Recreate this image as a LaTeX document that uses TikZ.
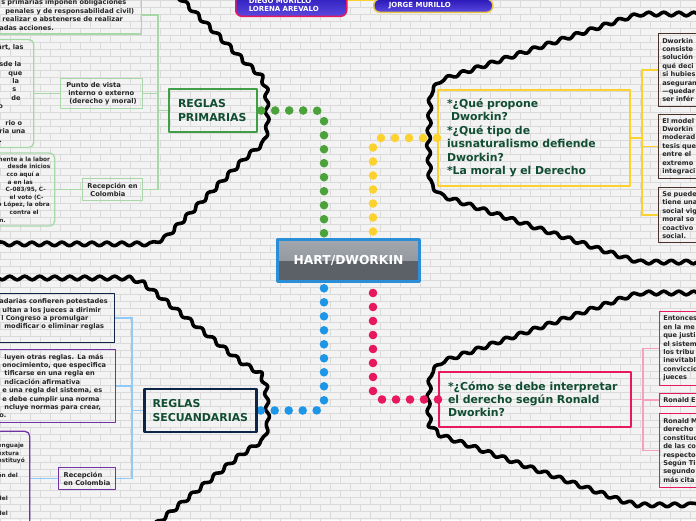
\documentclass[tikz,border=0pt]{standalone}
\usepackage{fontspec}
\setmainfont{DejaVu Sans}
\usetikzlibrary{decorations.pathmorphing}
\pgfdeclarelayer{back}
\pgfsetlayers{back,main}
\definecolor{wall}{HTML}{F3F3F3}
\definecolor{mortar}{HTML}{DADADA}
\definecolor{inkgreen}{HTML}{114D32}
\definecolor{dotgreen}{HTML}{4CA23A}
\definecolor{dotyellow}{HTML}{FDD22E}
\definecolor{dotblue}{HTML}{1E96E8}
\definecolor{dotpink}{HTML}{E8185E}
\definecolor{boxgreen}{HTML}{3F9E46}
\definecolor{leafgreen}{HTML}{A8D8A8}
\definecolor{navy}{HTML}{0D2647}
\definecolor{violet}{HTML}{7232A3}
\definecolor{leafbrown}{HTML}{4A3128}
\definecolor{twigblue}{HTML}{90CAF9}
\definecolor{twigpink}{HTML}{F6A0BE}
\definecolor{hubblue}{HTML}{2B8FD8}
\definecolor{hubtop}{HTML}{A2A7AE}
\definecolor{hubmid}{HTML}{878C93}
\definecolor{hubdark}{HTML}{5C6067}
\definecolor{authtop}{HTML}{2A18B8}
\definecolor{authbot}{HTML}{5A48E0}
\definecolor{goldline}{HTML}{E8C547}
\tikzset{
  wave/.style={draw=black, line width=3.6pt, line join=round, decorate, decoration={snake, amplitude=1.8pt, segment length=15pt}},
  dots/.style={line width=8.6pt, line cap=round, dash pattern=on 0pt off 14pt, rounded corners=8pt},
  twig/.style={line width=1.2pt},
  topic/.style={draw, line width=2.4pt, align=left, text=inkgreen, inner xsep=9pt, font=\fontsize{10.9}{13.5}\selectfont\bfseries},
  leaf/.style={draw, line width=1.3pt, align=left, text=black!85, inner xsep=3pt, inner ysep=0pt, font=\fontsize{6.6}{8.4}\selectfont\bfseries},
  tinyleaf/.style={leaf, font=\fontsize{5.8}{7.6}\selectfont\bfseries},
  tag/.style={draw, line width=1.3pt, align=left, text=black!85, inner sep=0pt, font=\fontsize{6.7}{8.2}\selectfont\bfseries},
  author/.style={line width=1.5pt, rounded corners=6pt, align=left, text=white, top color=authtop, bottom color=authbot, font=\fontsize{7}{7.8}\selectfont\bfseries}
}
\begin{document}
\begin{tikzpicture}[line cap=round,line join=round,x=1pt,y=-1pt]
\useasboundingbox (0,0) rectangle (696,520);
\clip (0,0) rectangle (696,520);

\node[draw=hubblue, line width=3pt, fill=hubdark, minimum width=142pt, minimum height=42pt, text=white, font=\fontsize{12.3}{14}\selectfont\bfseries, path picture={\shade[top color=hubtop, bottom color=hubmid] (path picture bounding box.north west) rectangle (path picture bounding box.east);}] (hub) at (348.5,260.5) {HART/DWORKIN};

\node[topic, draw=boxgreen, text width=70pt, minimum height=43pt] (prim) at (213,110.5) {REGLAS\\PRIMARIAS};
\node[topic, draw=navy, inner xsep=8pt, text width=96pt, minimum height=43pt] (secu) at (200.5,410.5) {REGLAS\\SECUANDARIAS};
\node[topic, draw=dotyellow, inner xsep=8.8pt, text width=174pt, minimum height=95.6pt] (dwq) at (534,138) {*¿Qué propone\\\hspace*{4pt}Dworkin?\\{}*¿Qué tipo de\\iusnaturalismo defiende\\Dworkin?\\{}*La moral y el Derecho};
\node[topic, draw=dotpink, inner xsep=8.8pt, text width=174pt, minimum height=54.6pt, font=\fontsize{10.9}{13}\selectfont\bfseries] (interp) at (535,399.5) {*¿Cómo se debe interpretar\\el derecho según Ronald\\Dworkin?};

\node[leaf, draw=leafgreen, anchor=east, text width=150pt, minimum height=38pt] (pduty) at (142.4,15) {\hspace*{12.6pt}s primarias imponen obligaciones\\\hspace*{16.6pt}penales y de responsabilidad civil)\\\hspace*{13.6pt}realizar o abstenerse de realizar\\\hspace*{10.6pt}adas acciones.};
\node[tag, draw=leafgreen, minimum width=82pt, minimum height=30pt] (pview) at (101.5,93.5) {Punto de vista\\\hspace*{2pt}interno o externo\\\hspace*{3pt}(derecho y moral)};
\node[leaf, draw=leafgreen, anchor=east, text width=40pt, minimum height=108pt, rounded corners=5pt] (pint) at (34.4,93.5) {\hspace*{6.6pt}art, las\\\mbox{}\\\hspace*{8.6pt}sde la\\\hspace*{17.6pt}que\\\hspace*{21.6pt}la\\\hspace*{21.6pt}s\\\hspace*{20.6pt}de\\\hspace*{7.6pt}o\\\mbox{}\\\hspace*{14.6pt}rio o\\\hspace*{8.6pt}ria una\\\hspace*{8.6pt}.};
\node[tag, draw=leafgreen, minimum width=60pt, minimum height=22pt] (prec) at (112.5,189.5) {Recepción en\\\hspace*{3pt}Colombia};
\node[tinyleaf, draw=leafgreen, anchor=east, text width=62pt, minimum height=73pt, rounded corners=5pt] (pcol) at (55.4,189.5) {\hspace*{7pt}\mbox{mente a la labor}\\\hspace*{18pt}\mbox{desde inicios}\\\hspace*{17pt}\mbox{cco aquí a}\\\hspace*{18pt}\mbox{a en las}\\\hspace*{16pt}\mbox{C-083/95, C-}\\\hspace*{20pt}\mbox{el voto (C-}\\\hspace*{8pt}\mbox{o López, la obra}\\\hspace*{20pt}\mbox{contra el}\\\hspace*{9.6pt}n.};

\node[leaf, draw=navy, anchor=east, text width=124pt, minimum height=49pt] (spow) at (115.4,318) {\hspace*{11.6pt}adarias confieren potestades\\\hspace*{14.6pt}ultan a los jueces a dirimir\\\hspace*{13.6pt}l Congreso a promulgar\\\hspace*{16.6pt}modificar o eliminar reglas\\\mbox{}};
\node[leaf, draw=violet, anchor=east, text width=125pt, minimum height=73pt] (srule) at (116.4,386) {\hspace*{16.6pt}luyen otras reglas. La más\\\hspace*{14.6pt}onocimiento, que especifica\\\hspace*{16.6pt}tificarse en una regla en\\\hspace*{16.6pt}ndicación afirmativa\\\hspace*{14.6pt}e una regla del sistema, es\\\hspace*{14.6pt}e debe cumplir una norma\\\hspace*{16.6pt}ncluye normas para crear,\\\hspace*{11.6pt}o.};
\node[tag, draw=violet, minimum width=57pt, minimum height=22pt] (srec) at (87,478.5) {Recepción\\en Colombia};
\node[tinyleaf, draw=violet, anchor=north east, inner xsep=2pt, inner ysep=11pt, text width=30pt, rounded corners=5pt] (scol) at (30.4,430.6) {\strut enguaje\\extura\\nstituyó\\\mbox{}\\ón del\\\mbox{}\\\mbox{}\\del\\\mbox{}\\del};

\node[leaf, draw=leafbrown, anchor=west, inner xsep=4pt, text width=60pt, minimum height=73pt] (dprop) at (657.6,70) {Dworkin\\consiste\\solución\\qué deci\\si hubies\\aseguran\\—quedar\\ser infér};
\node[leaf, draw=leafbrown, anchor=west, inner xsep=4pt, text width=60pt, minimum height=64pt] (dmod) at (657.6,146.5) {El model\\Dworkin\\moderad\\tesis que\\entre el\\extremo\\integraci};
\node[leaf, draw=leafbrown, anchor=west, inner xsep=4pt, text width=60pt, minimum height=55pt] (dsoc) at (657.6,215) {Se puede\\tiene una\\social vig\\moral so\\coactivo\\social.};

\node[leaf, draw=dotpink, anchor=west, inner xsep=4pt, text width=60pt, minimum height=74pt] (iwhen) at (658.6,348.5) {Entonces\\en la me\\que justi\\el sistem\\los tribu\\inevitabl\\conviccio\\jueces};
\node[leaf, draw=dotpink, anchor=west, inner xsep=4pt, text width=60pt, minimum height=13pt] (iron) at (658.6,400) {Ronald E};
\node[leaf, draw=dotpink, anchor=west, inner xsep=4pt, text width=60pt, minimum height=74pt] (imain) at (658.6,450.5) {Ronald M\\derecho\\constituc\\de las co\\respecto\\Según Ti\\segundo\\más cita};

\node[author, draw=dotpink, anchor=south west, inner xsep=13pt, inner ysep=4.5pt, text width=85pt] (team1) at (235,17) {DIEGO MURILLO\\LORENA AREVALO};
\node[author, draw=goldline, anchor=south west, inner xsep=15pt, inner ysep=3.3pt, text width=89pt] (team2) at (373,13) {JORGE MURILLO};

\begin{pgfonlayer}{back}
\fill[wall] (0,0) rectangle (696,520);
\foreach \r in {0,...,74}{
  \pgfmathtruncatemacro\off{mod(\r,2)*10}
  \draw[mortar,line width=0.7pt] (0,7*\r) -- (696,7*\r)
    \foreach \c in {0,...,35}{(20*\c+\off,7*\r) -- ++(0,7)};
}
\draw[wave] (172,-10) -- (240,57) -- (257,72) -- (264,90) -- (265,125) -- (261,144) -- (245,157) -- (166,236) -- (152,243) -- (-10,243);
\draw[wave] (-10,278) -- (125,278) -- (142,284) -- (240,363) -- (257,373) -- (264,390) -- (266,425) -- (261,444) -- (240,458) -- (140,540);
\draw[wave] (706,14) -- (645,14) -- (630,18) -- (445,80) -- (435,92) -- (433,140) -- (435,182) -- (445,193) -- (625,254) -- (640,258) -- (706,258);
\draw[wave] (706,293) -- (645,293) -- (630,297) -- (445,362) -- (434,373) -- (432,400) -- (434,426) -- (445,436) -- (625,501) -- (640,505) -- (706,505);

\coordinate (pfork) at (158,110.5);
\draw[twig,leafgreen] (prim.west) -- (pfork);
\draw[twig,leafgreen] (pduty.east) -| (pfork);
\draw[twig,leafgreen] (pview.east) -| (pfork);
\draw[twig,leafgreen] (prec.east) -| (pfork);
\draw[twig,leafgreen] (pview.west) -- (pview.west -| pint.east);
\draw[twig,leafgreen] (prec.west) -- (prec.west -| pcol.east);

\coordinate (sfork) at (132,410.5);
\draw[twig,twigblue] (secu.west) -- (sfork);
\draw[twig,twigblue] (spow.east) -| (sfork);
\draw[twig,twigblue] (srule.east) -| (sfork);
\draw[twig,twigblue] (srec.east) -| (sfork);
\draw[twig,twigblue] (srec.west) -- (srec.west -| scol.east);

\coordinate (dfork) at (642,138);
\draw[twig,dotyellow,line width=1.8pt] (dwq.east) -- (dfork);
\draw[twig,dotyellow,line width=1.8pt] (dprop.west) -| (dfork);
\draw[twig,dotyellow,line width=1.8pt] (dmod.west) -| (dfork);
\draw[twig,dotyellow,line width=1.8pt] (dsoc.west) -| (dfork);

\coordinate (ifork) at (643,399.5);
\draw[twig,twigpink] (interp.east) -- (ifork);
\draw[twig,twigpink] (iwhen.west) -| (ifork);
\draw[twig,twigpink] (iron.west) -| (ifork);
\draw[twig,twigpink] (imain.west) -| (ifork);

\coordinate (teamtop) at (0,-1);
\draw[dotyellow,line width=3pt] (team1.east |- teamtop) -- (team2.west |- teamtop);

\draw[dots,dotgreen] ([xshift=3pt]prim.east) -| ([xshift=-24.5pt]hub.north);
\draw[dots,dotyellow] (dwq.west) -| ([xshift=24.5pt]hub.north);
\draw[dots,dotblue] ([xshift=3pt]secu.east) -| ([xshift=-24.5pt]hub.south);
\draw[dots,dotpink] (interp.west) -| ([xshift=24.5pt]hub.south);
\end{pgfonlayer}
\end{tikzpicture}
\end{document}
